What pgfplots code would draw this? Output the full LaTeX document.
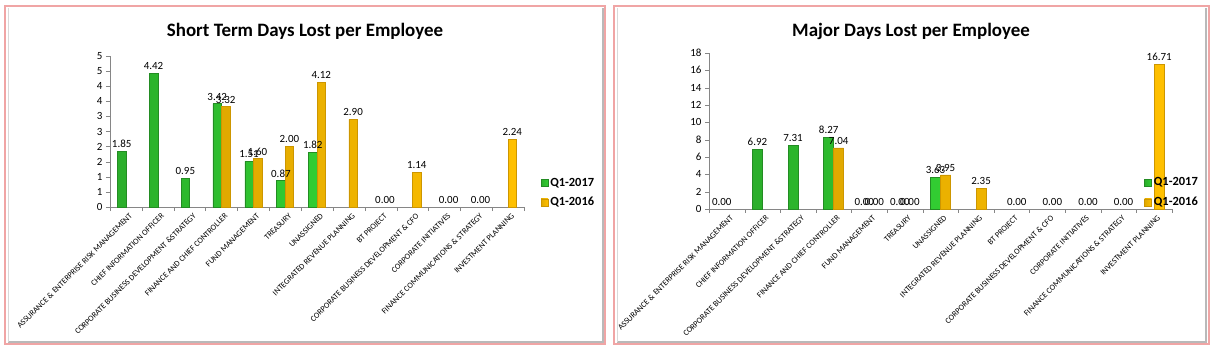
\documentclass[border=0pt]{standalone}
\usepackage{fontspec}
\setmainfont{Carlito}
\usepackage{pgfplots}
\pgfplotsset{compat=1.18}

\definecolor{gfill}{RGB}{50,205,50}
\definecolor{glight}{RGB}{100,230,90}
\definecolor{gdark}{RGB}{35,140,35}
\definecolor{yfill}{RGB}{255,192,0}
\definecolor{ylight}{RGB}{255,212,40}
\definecolor{ydark}{RGB}{205,150,0}
\definecolor{axgray}{RGB}{134,134,134}
\definecolor{framepink}{RGB}{240,165,165}

\pgfplotsset{
  mybar/.style={
    scale only axis, anchor=south west, clip=false,
    ybar=0pt, xmin=-0.5, xmax=12.5, ymin=0,
    axis x line*=bottom, axis y line*=left,
    axis line style={draw=axgray},
    xtick={0,...,12},
    xticklabels={ASSURANCE \& ENTERPRISE RISK MANAGEMENT,CHIEF INFORMATION OFFICER,CORPORATE BUSINESS DEVELOPMENT \&STRATEGY,FINANCE AND CHIEF CONTROLLER,FUND MANAGEMENT,TREASURY,UNASSIGNED,INTEGRATED REVENUE PLANNING,BT PROJECT,CORPORATE BUSINESS DEVELOPMENT \& CFO,CORPORATE INITIATIVES,FINANCE COMMUNICATIONS \& STRATEGY,INVESTMENT PLANNING},
    minor xtick={-0.5,0.5,...,12.5},
    major x tick style={draw=none},
    minor x tick style={draw=axgray},
    y tick style={draw=axgray},
    tick align=outside, major tick length=4bp, minor tick length=4bp,
    xticklabel style={rotate=45, anchor=east, font=\fontsize{8.2}{9}\selectfont, inner sep=1pt, yshift=-6bp, xshift=2bp},
    yticklabel style={font=\fontsize{11}{12}\selectfont},
    /pgf/number format/assume math mode=true,
    nodes near coords={\pgfmathprintnumber[fixed,fixed zerofill,precision=2,assume math mode=true]{\pgfplotspointmeta}},
    nodes near coords style={font=\fontsize{11}{12}\selectfont, text=black},
    legend style={draw=none, fill=none, font=\bfseries\fontsize{12.5}{13}\selectfont, row sep=6bp, anchor=west, inner sep=0pt},
    legend cell align=left,
    legend image code/.code={\path[#1] (0bp,-3.5bp) rectangle (7bp,3.5bp);},
  },
  gbar/.style={draw=gdark, line width=0.5bp, left color=gfill!85!black, middle color=glight, right color=gfill},
  ybarc/.style={draw=ydark, line width=0.5bp, left color=yfill!88!black, middle color=ylight, right color=yfill},
  zbar/.style={draw=none, fill=none},
}

\begin{document}
\begin{tikzpicture}
\useasboundingbox (0bp,0bp) rectangle (1216bp,353bp);
\fill[white] (0bp,0bp) rectangle (1216bp,353bp);

% frames
\draw[gray!55, line width=1.5bp] (8bp,11bp) -- (603bp,11bp) -- (603bp,345bp);
\draw[gray!30, line width=1bp] (8bp,11bp) -- (8bp,345bp);
\draw[framepink, line width=2bp] (5bp,9bp) rectangle (605bp,347bp);
\draw[gray!55, line width=1.5bp] (617bp,11bp) -- (1206bp,11bp) -- (1206bp,345bp);
\draw[gray!30, line width=1bp] (617bp,11bp) -- (617bp,345bp);
\draw[framepink, line width=2bp] (614bp,9bp) rectangle (1209bp,347bp);

% titles
\node[font=\bfseries\fontsize{19}{22}\selectfont] at (305bp,322bp) {Short Term Days Lost per Employee};
\node[font=\bfseries\fontsize{19}{22}\selectfont] at (911bp,322bp) {Major Days Lost per Employee};

% left chart
\begin{axis}[mybar, at={(110bp,146bp)}, width=414bp, height=151bp,
  bar width=8.5bp, ymax=5,
  ytick={0,0.5,...,5}, yticklabels={0,1,1,2,2,3,3,4,4,5,5},
  legend style={at={(axis description cs:1.04,0.095)}}]
\addplot[gbar, bar shift=-4.25bp] coordinates {(0,1.85) (1,4.42) (2,0.95) (3,3.42) (4,1.51) (5,0.87) (6,1.82)};
\addplot[ybarc, bar shift=4.25bp] coordinates {(3,3.32) (4,1.60) (5,2.00) (6,4.12) (7,2.90) (9,1.14) (12,2.24)};
\addplot[zbar, bar shift=4.25bp, forget plot] coordinates {(8,0) (10,0) (11,0)};
\legend{Q1-2017,Q1-2016}
\end{axis}

% right chart
\begin{axis}[mybar, at={(709bp,144bp)}, width=463bp, height=156bp,
  bar width=10bp, ymax=18,
  ytick={0,2,...,18},
  legend style={at={(axis description cs:0.94,0.105)}}]
\addplot[gbar, bar shift=-5bp] coordinates {(1,6.92) (2,7.31) (3,8.27) (6,3.63)};
\addplot[ybarc, bar shift=5bp] coordinates {(3,7.04) (6,3.95) (7,2.35) (12,16.71)};
\addplot[zbar, bar shift=-5bp, forget plot] coordinates {(0,0) (4,0) (5,0)};
\addplot[zbar, bar shift=5bp, forget plot] coordinates {(4,0) (5,0) (8,0) (9,0) (10,0) (11,0)};
\legend{Q1-2017,Q1-2016}
\end{axis}
\end{tikzpicture}
\end{document}
